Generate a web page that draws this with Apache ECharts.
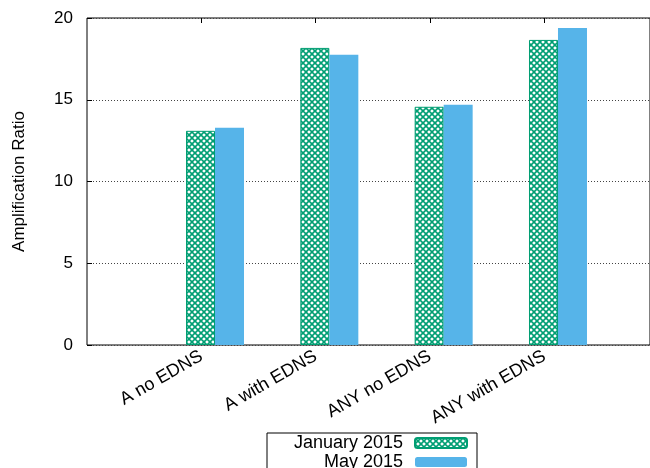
<!DOCTYPE html>
<html>
<head>
<meta charset="utf-8">
<script src="https://cdn.jsdelivr.net/npm/echarts@6/dist/echarts.min.js"></script>
<style>
  html, body { margin: 0; padding: 0; background: #fff; }
  #chart { width: 650px; height: 468px; }
</style>
</head>
<body>
<div id="chart"></div>
<script>
// Amplification ratio per query type, two measurement campaigns
const categories = ['A no EDNS', 'A with EDNS', 'ANY no EDNS', 'ANY with EDNS'];
const january2015 = [13.1, 18.17, 14.57, 18.66];
const may2015 = [13.28, 17.75, 14.69, 19.39];
const yTicks = { min: 0, max: 20, interval: 5 };

const GREEN = '#009e73';
const BLUE = '#56b4e9';
const FONT = 'Liberation Sans, Arial, sans-serif';

// Crosshatch tile used as the fill of the January bars
function crosshatch() {
  const c = document.createElement('canvas');
  c.width = 6; c.height = 6;
  const g = c.getContext('2d');
  g.fillStyle = '#fff';
  g.fillRect(0, 0, 6, 6);
  g.strokeStyle = GREEN;
  g.lineWidth = 1.6;
  g.beginPath();
  g.moveTo(0, 0); g.lineTo(6, 6);
  g.moveTo(6, 0); g.lineTo(0, 6);
  g.stroke();
  return c;
}
const hatchFill = { image: crosshatch(), repeat: 'repeat' };

const chart = echarts.init(document.getElementById('chart'), null, { renderer: 'canvas' });

const H = 468;
const plotTop = 18, plotBottom = 345;
const step = 114.33;
const barCentre0 = 215;   // centre of the first bar pair
const tickPos0 = 201.3;   // position of the first category tick/label

const barGrid = { left: barCentre0 - step / 2, width: step * 4, top: plotTop, bottom: H - plotBottom };
const labelGrid = { left: tickPos0 - step / 2, width: step * 4, top: plotTop, bottom: H - plotBottom };

chart.setOption({
  animation: false,
  textStyle: { fontFamily: FONT },
  grid: [
    { left: 87, right: -3, top: plotTop, bottom: H - plotBottom, show: true, borderColor: '#000', borderWidth: 1, backgroundColor: 'transparent' },
    barGrid,
    labelGrid
  ],
  legend: {
    data: ['January 2015', 'May 2015'],
    orient: 'vertical',
    align: 'right',
    left: 267,
    top: 433,
    height: 60,
    padding: [1, 9, 6, 21],
    itemGap: 1,
    itemWidth: 52,
    itemHeight: 10,
    borderColor: '#000',
    borderWidth: 1,
    textStyle: { fontSize: 18, color: '#000', fontFamily: FONT, width: 115, align: 'right', lineHeight: 18, padding: [0, 7, 0, 0] }
  },
  xAxis: [
    { gridIndex: 0, type: 'value', min: 0, max: 1, show: false },
    { gridIndex: 1, type: 'category', data: categories, show: false },
    {
      gridIndex: 2, type: 'category', data: categories, position: 'bottom',
      axisLine: { show: false },
      axisTick: { show: true, inside: true, length: 5, alignWithLabel: true, lineStyle: { color: '#000' } },
      axisLabel: { rotate: 30, margin: 10, fontSize: 18, color: '#000', fontFamily: FONT, interval: 0 }
    },
    {
      gridIndex: 2, type: 'category', data: categories, position: 'top',
      axisLine: { show: false },
      axisTick: { show: true, inside: true, length: 5, alignWithLabel: true, lineStyle: { color: '#000' } },
      axisLabel: { show: false }
    }
  ],
  yAxis: [
    {
      gridIndex: 0, type: 'value', min: yTicks.min, max: yTicks.max, interval: yTicks.interval,
      name: 'Amplification Ratio', nameLocation: 'middle', nameGap: 59, nameRotate: 90,
      nameTextStyle: { fontSize: 17, color: '#000', fontFamily: FONT },
      axisLine: { show: false },
      axisTick: { show: true, inside: true, length: 5, lineStyle: { color: '#000' } },
      axisLabel: { fontSize: 17, color: '#000', margin: 14, fontFamily: FONT },
      splitLine: { show: true, lineStyle: { color: '#444', type: [1, 2], width: 1 } }
    },
    { gridIndex: 1, type: 'value', min: yTicks.min, max: yTicks.max, show: false },
    { gridIndex: 2, type: 'value', min: yTicks.min, max: yTicks.max, show: false }
  ],
  series: [
    {
      name: 'January 2015', type: 'bar', xAxisIndex: 1, yAxisIndex: 1,
      data: january2015, barWidth: 29, barGap: '0%',
      itemStyle: { color: hatchFill, borderColor: GREEN, borderWidth: 1 }
    },
    {
      name: 'May 2015', type: 'bar', xAxisIndex: 1, yAxisIndex: 1,
      data: may2015, barWidth: 29, barGap: '0%',
      itemStyle: { color: BLUE }
    }
  ]
});
</script>
</body>
</html>
